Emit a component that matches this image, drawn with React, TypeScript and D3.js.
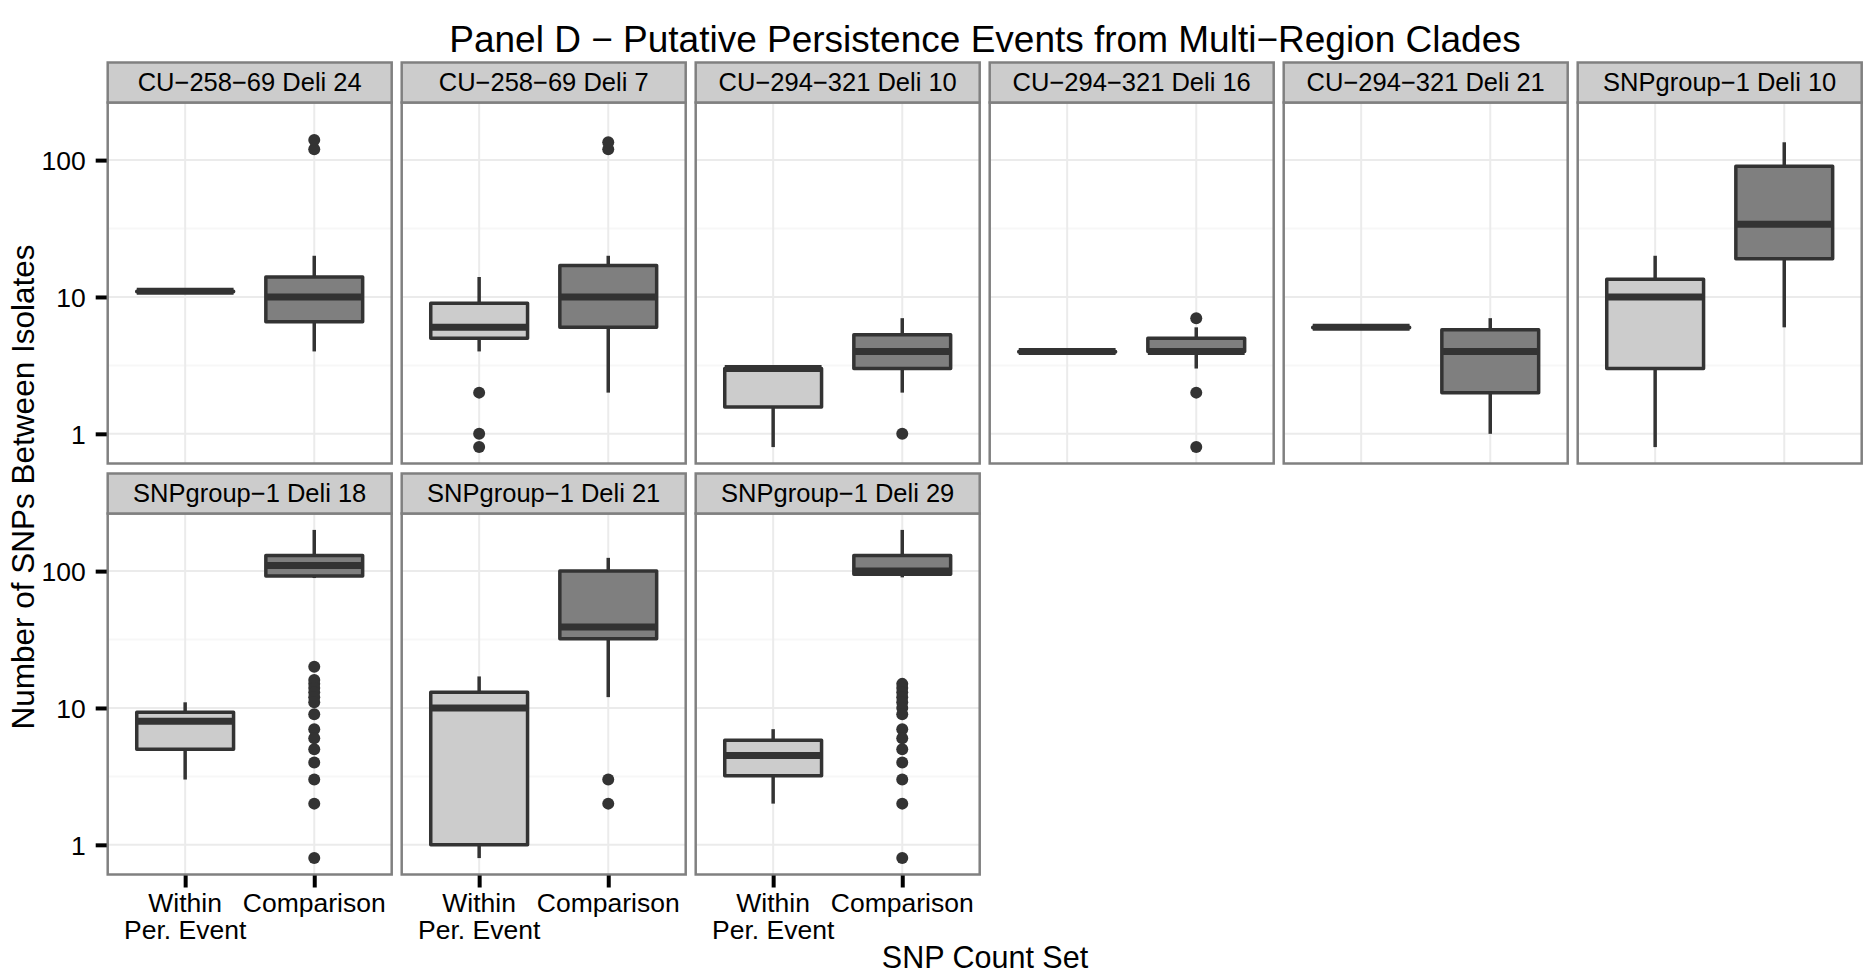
import React, { Component, createRef } from "react";
import * as d3 from "d3";

// facet labels, plotting order (6 per row)
const panels = [
  "CU−258−69 Deli 24",
  "CU−258−69 Deli 7",
  "CU−294−321 Deli 10",
  "CU−294−321 Deli 16",
  "CU−294−321 Deli 21",
  "SNPgroup−1 Deli 10",
  "SNPgroup−1 Deli 18",
  "SNPgroup−1 Deli 21",
  "SNPgroup−1 Deli 29",
];

const sets = ["Within", "Comparison"];
const setLabels = [["Within", "Per. Event"], ["Comparison"]];

// [lower whisker, Q1, median, Q3, upper whisker]
const withinStats = [
  [11, 11, 11, 11, 11],
  [4, 5, 6, 9, 14],
  [0.8, 1.57, 3, 3, 3],
  [4, 4, 4, 4, 4],
  [6, 6, 6, 6, 6],
  [0.8, 3, 10, 13.5, 20],
  [3, 5, 8, 9.3, 11],
  [0.8, 1, 10, 13, 17],
  [2, 3.2, 4.5, 5.8, 7],
];
const comparisonStats = [
  [4, 6.6, 10, 14, 20],
  [2, 6, 10, 17, 20],
  [2, 3, 4, 5.3, 7],
  [3, 4, 4, 5, 6],
  [1, 2, 4, 5.75, 7],
  [6, 19, 34, 90, 135],
  [89, 92, 110, 130, 200],
  [12, 32, 39, 100, 125],
  [90, 95, 100, 130, 200],
];
const withinOutliers = [[], [2, 1, 0.8], [], [], [], [], [], [], []];
const comparisonOutliers = [
  [120, 140],
  [120, 135],
  [1],
  [7, 2, 0.8],
  [],
  [],
  [20, 16, 15, 14, 13, 12, 11, 9, 7, 6, 5, 4, 3, 2, 0.8],
  [3, 2],
  [15, 14, 13, 12, 11, 10, 9, 7, 6, 5, 4, 3, 2, 0.8],
];

const yTicks = [1, 10, 100];
const yMinor = [3.1623, 31.623];

const W = 1864;
const H = 976;
const FONT = "'Liberation Sans', Arial, Helvetica, sans-serif";

class App extends Component {
  canvas = createRef<HTMLDivElement>();

  componentDidMount() {
    this.drawChart();
  }

  drawChart() {
    const node = this.canvas.current;
    if (!node) return;
    d3.select(node).selectAll("*").remove();

    const left = 107.7;
    const panelW = 284;
    const gapX = 10;
    const stripTop = 62.5;
    const stripH = 40;
    const panelH = 361;
    const gapY = 10;
    const ncol = 6;

    const svg = d3
      .select(node)
      .append("svg")
      .attr("width", W)
      .attr("height", H)
      .style("display", "block")
      .style("background", "#fff")
      .style("font-family", FONT);

    // shared log scale domain, 5% expansion in log space like ggplot
    const allVals = [
      ...withinStats.flat(),
      ...comparisonStats.flat(),
      ...withinOutliers.flat(),
      ...comparisonOutliers.flat(),
    ];
    const ext = d3.extent(allVals) as [number, number];
    const lo = Math.log10(ext[0]);
    const hi = Math.log10(ext[1]);
    const pad = (hi - lo) * 0.05;

    const fills = ["#cccccc", "#7f7f7f"];
    const stats = [withinStats, comparisonStats];
    const outs = [withinOutliers, comparisonOutliers];

    panels.forEach((label, i) => {
      const col = i % ncol;
      const row = Math.floor(i / ncol);
      const x0 = left + col * (panelW + gapX);
      const sTop = stripTop + row * (stripH + panelH + gapY);
      const pTop = sTop + stripH;
      const pBot = pTop + panelH;

      const y = d3
        .scaleLog()
        .domain([Math.pow(10, lo - pad), Math.pow(10, hi + pad)])
        .range([pBot, pTop]);
      const x = d3
        .scalePoint()
        .domain(sets)
        .range([x0, x0 + panelW])
        .padding(0.6);
      const boxW = x.step() * 0.75;

      const g = svg.append("g");

      g.append("rect")
        .attr("x", x0)
        .attr("y", pTop)
        .attr("width", panelW)
        .attr("height", panelH)
        .attr("fill", "#fff");

      // grid
      g.selectAll(".minor")
        .data(yMinor)
        .enter()
        .append("line")
        .attr("x1", x0)
        .attr("x2", x0 + panelW)
        .attr("y1", (d) => y(d))
        .attr("y2", (d) => y(d))
        .attr("stroke", "#f7f7f7")
        .attr("stroke-width", 2);
      g.selectAll(".major")
        .data(yTicks)
        .enter()
        .append("line")
        .attr("x1", x0)
        .attr("x2", x0 + panelW)
        .attr("y1", (d) => y(d))
        .attr("y2", (d) => y(d))
        .attr("stroke", "#ebebeb")
        .attr("stroke-width", 2);
      g.selectAll(".vgrid")
        .data(sets)
        .enter()
        .append("line")
        .attr("x1", (d) => x(d) as number)
        .attr("x2", (d) => x(d) as number)
        .attr("y1", pTop)
        .attr("y2", pBot)
        .attr("stroke", "#ebebeb")
        .attr("stroke-width", 2);

      // boxes
      sets.forEach((set, j) => {
        const s = stats[j][i];
        const cx = x(set) as number;
        const bg = g.append("g");
        bg.append("line")
          .attr("x1", cx)
          .attr("x2", cx)
          .attr("y1", y(s[4]))
          .attr("y2", y(s[3]))
          .attr("stroke", "#333")
          .attr("stroke-width", 3.5);
        bg.append("line")
          .attr("x1", cx)
          .attr("x2", cx)
          .attr("y1", y(s[1]))
          .attr("y2", y(s[0]))
          .attr("stroke", "#333")
          .attr("stroke-width", 3.5);
        bg.append("rect")
          .attr("x", cx - boxW / 2)
          .attr("y", y(s[3]))
          .attr("width", boxW)
          .attr("height", Math.max(y(s[1]) - y(s[3]), 0.5))
          .attr("fill", fills[j])
          .attr("stroke", "#333")
          .attr("stroke-width", 3.5)
          .attr("stroke-linejoin", "round");
        bg.append("line")
          .attr("x1", cx - boxW / 2)
          .attr("x2", cx + boxW / 2)
          .attr("y1", y(s[2]))
          .attr("y2", y(s[2]))
          .attr("stroke", "#333")
          .attr("stroke-width", 7);
        bg.selectAll("circle")
          .data(outs[j][i])
          .enter()
          .append("circle")
          .attr("cx", cx)
          .attr("cy", (d) => y(d))
          .attr("r", 6)
          .attr("fill", "#333");
      });

      // border
      g.append("rect")
        .attr("x", x0)
        .attr("y", pTop)
        .attr("width", panelW)
        .attr("height", panelH)
        .attr("fill", "none")
        .attr("stroke", "#808080")
        .attr("stroke-width", 2.5);

      // strip
      g.append("rect")
        .attr("x", x0)
        .attr("y", sTop)
        .attr("width", panelW)
        .attr("height", stripH)
        .attr("fill", "#cccccc")
        .attr("stroke", "#808080")
        .attr("stroke-width", 2.5);
      g.append("text")
        .attr("x", x0 + panelW / 2)
        .attr("y", sTop + 28.5)
        .attr("text-anchor", "middle")
        .attr("font-size", 25.5)
        .attr("fill", "#000")
        .text(label);

      // y axis on first column
      if (col === 0) {
        const ax = g
          .append("g")
          .attr("transform", `translate(${x0 - 1},0)`)
          .call(
            d3
              .axisLeft(y)
              .tickValues(yTicks)
              .tickFormat(d3.format("d") as any)
              .tickSize(11)
              .tickPadding(10)
          );
        ax.select(".domain").remove();
        ax.selectAll(".tick line").attr("stroke", "#000").attr("stroke-width", 4);
        ax.selectAll(".tick text")
          .attr("font-size", 26.5)
          .attr("font-family", FONT)
          .attr("fill", "#000")
          .attr("dy", "0.36em");
      }

      // x axis under bottom row
      if (row === 1) {
        const ax = g
          .append("g")
          .attr("transform", `translate(0,${pBot + 1})`)
          .call(d3.axisBottom(x).tickSize(12).tickFormat(() => ""));
        ax.select(".domain").remove();
        ax.selectAll(".tick line").attr("stroke", "#000").attr("stroke-width", 4);
        sets.forEach((set, j) => {
          const t = g
            .append("text")
            .attr("text-anchor", "middle")
            .attr("font-size", 26.5)
            .attr("fill", "#000");
          setLabels[j].forEach((ln, k) => {
            t.append("tspan")
              .attr("x", x(set) as number)
              .attr("y", pBot + 37.5 + k * 27)
              .text(ln);
          });
        });
      }
    });

    svg.append("text")
      .attr("x", 985)
      .attr("y", 52)
      .attr("text-anchor", "middle")
      .attr("font-size", 37)
      .attr("fill", "#000")
      .text("Panel D − Putative Persistence Events from Multi−Region Clades");

    svg.append("text")
      .attr("x", 985)
      .attr("y", 968)
      .attr("text-anchor", "middle")
      .attr("font-size", 30.5)
      .attr("fill", "#000")
      .text("SNP Count Set");

    svg.append("text")
      .attr("transform", "translate(34,487) rotate(-90)")
      .attr("text-anchor", "middle")
      .attr("font-size", 31.5)
      .attr("fill", "#000")
      .text("Number of SNPs Between Isolates");
  }

  render() {
    return (
      <div style={{ position: "absolute", left: 0, top: 0 }}>
        <div ref={this.canvas}></div>
      </div>
    );
  }
}

export default App;
